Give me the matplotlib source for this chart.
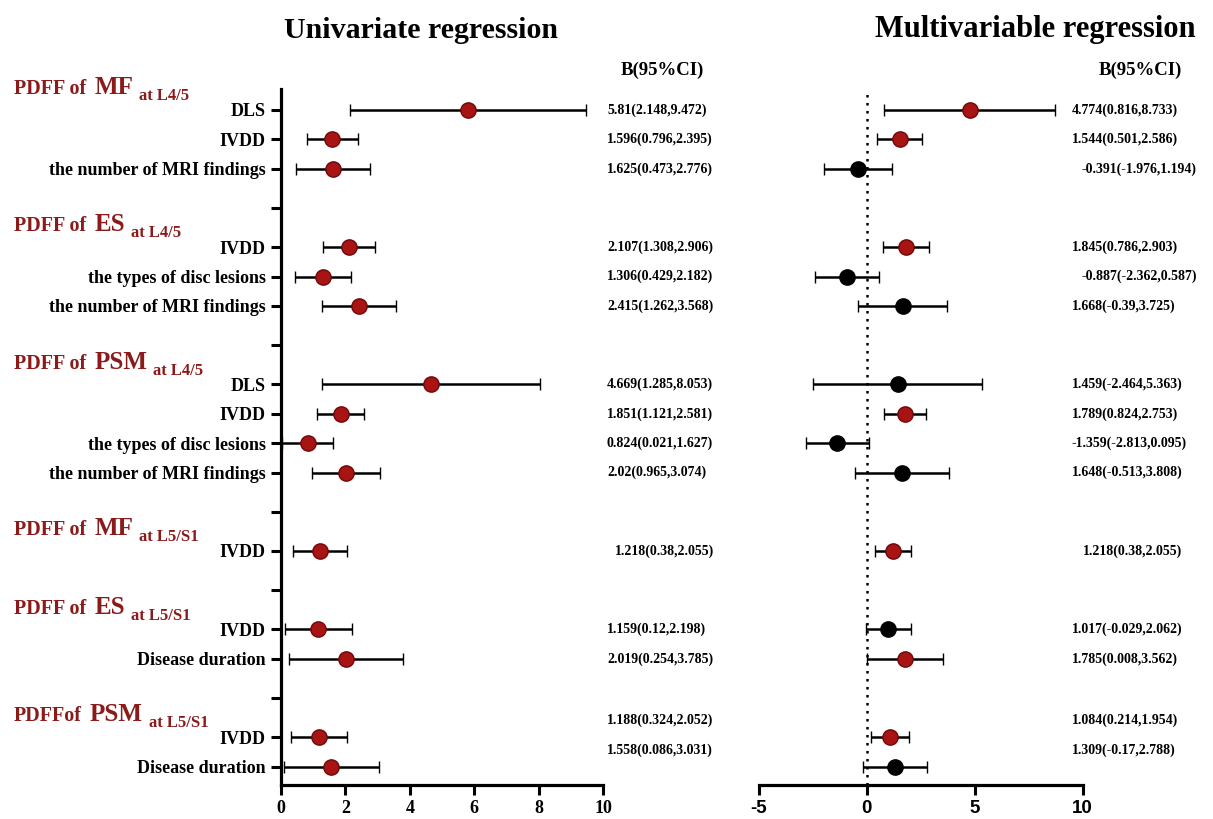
import matplotlib
matplotlib.use("Agg")
import matplotlib.pyplot as plt
from matplotlib import transforms

plt.rcParams["axes.unicode_minus"] = False

# groups of outcomes (title pieces) and their predictors
group_prefix = ["PDFF of", "PDFF of", "PDFF of", "PDFF of", "PDFF of", "PDFFof"]
group_main = ["MF", "ES", "PSM", "MF", "ES", "PSM"]
group_level = ["at L4/5", "at L4/5", "at L4/5", "at L5/S1", "at L5/S1", "at L5/S1"]
group_vars = [
    ["DLS", "IVDD", "the number of MRI findings"],
    ["IVDD", "the types of disc lesions", "the number of MRI findings"],
    ["DLS", "IVDD", "the types of disc lesions", "the number of MRI findings"],
    ["IVDD"],
    ["IVDD", "Disease duration"],
    ["IVDD", "Disease duration"],
]

# univariate B and 95% CI
uni_b = [5.81, 1.596, 1.625, 2.107, 1.306, 2.415, 4.669, 1.851, 0.824, 2.02,
         1.218, 1.159, 2.019, 1.188, 1.558]
uni_lo = [2.148, 0.796, 0.473, 1.308, 0.429, 1.262, 1.285, 1.121, 0.021, 0.965,
          0.38, 0.12, 0.254, 0.324, 0.086]
uni_hi = [9.472, 2.395, 2.776, 2.906, 2.182, 3.568, 8.053, 2.581, 1.627, 3.074,
          2.055, 2.198, 3.785, 2.052, 3.031]

# multivariable B and 95% CI
multi_b = [4.774, 1.544, -0.391, 1.845, -0.887, 1.668, 1.459, 1.789, -1.359, 1.648,
           1.218, 1.017, 1.785, 1.084, 1.309]
multi_lo = [0.816, 0.501, -1.976, 0.786, -2.362, -0.39, -2.464, 0.824, -2.813, -0.513,
            0.38, -0.029, 0.008, 0.214, -0.17]
multi_hi = [8.733, 2.586, 1.194, 2.903, 0.587, 3.725, 5.363, 2.753, 0.095, 3.808,
            2.055, 2.062, 3.562, 1.954, 2.788]

SERIF = "Liberation Serif"
SANS = "Liberation Sans"
RED = "#a81414"
RED_EDGE = "#6e0808"
TITLE_RED = "#8b1a1a"

# row layout: 1.5 between rows in a group, empty tick between groups
pos, empty, first_rows, group_of_row = [], [], [], []
u = 0.0
for gi, names in enumerate(group_vars):
    if gi > 0:
        u += 2
        empty.append(u)
        u += 2
    first_rows.append(u)
    for k in range(len(names)):
        if k > 0:
            u += 1.5
        pos.append(u)
        group_of_row.append(gi)
row_names = [n for names in group_vars for n in names]

W, H = 1213, 819
fig = plt.figure(figsize=(W / 100, H / 100), dpi=100)


def box(x0, x1, y0, y1):
    return [x0 / W, 1 - y1 / H, (x1 - x0) / W, (y1 - y0) / H]


ax_u = fig.add_axes(box(281, 603, 89, 785))
ax_m = fig.add_axes(box(758.5, 1082.5, 89, 785))


def forest(ax, b, lo, hi):
    for y, bi, l, h in zip(pos, b, lo, hi):
        sig = l > 0 or h < 0
        ax.errorbar(bi, y, xerr=[[bi - l], [h - bi]], fmt="o", color="black",
                    ecolor="black", elinewidth=1.8, capsize=4.6, capthick=1.8,
                    mfc=RED if sig else "black", mec=RED_EDGE if sig else "black",
                    ms=11, mew=1, zorder=3)
    ax.set_ylim(34.44, -1.07)
    for s in ["top", "right"]:
        ax.spines[s].set_visible(False)
    ax.spines["bottom"].set_linewidth(2.3)
    ax.tick_params(axis="both", width=2.2, length=7, pad=4)


forest(ax_u, uni_b, uni_lo, uni_hi)
ax_u.set_xlim(0, 10)
ax_u.set_xticks(range(0, 11, 2))
ax_u.spines["left"].set_linewidth(2.3)
ax_u.set_yticks(pos + empty)
ax_u.set_yticklabels(row_names + [""] * len(empty))
for lab in ax_u.get_yticklabels():
    lab.set_fontfamily(SERIF)
    lab.set_fontweight("bold")
    lab.set_fontsize(13)
for lab in ax_u.get_xticklabels():
    lab.set_fontfamily(SERIF)
    lab.set_fontweight("bold")
    lab.set_fontsize(13)

forest(ax_m, multi_b, multi_lo, multi_hi)
ax_m.set_xlim(-5, 10)
ax_m.set_xticks([-5, 0, 5, 10])
ax_m.spines["left"].set_visible(False)
ax_m.set_yticks([])
ax_m.axvline(0, color="black", lw=1.8, ls=(0, (1, 2.2)), zorder=1)
for lab in ax_m.get_xticklabels():
    lab.set_fontfamily(SANS)
    lab.set_fontweight("bold")
    lab.set_fontsize(13.5)

# titles and column headers
fig.text(421 / W, 1 - 30 / H, "Univariate regression", ha="center", va="center",
         fontsize=21.5, fontweight="bold", family=SERIF)
fig.text(1035 / W, 1 - 30 / H, "Multivariable regression", ha="center", va="center",
         fontsize=22, fontweight="bold", family=SERIF)
fig.text(662 / W, 1 - 70 / H, "B(95%CI)", ha="center", va="center",
         fontsize=13.5, fontweight="bold", family=SERIF)
fig.text(1140 / W, 1 - 70 / H, "B(95%CI)", ha="center", va="center",
         fontsize=13.5, fontweight="bold", family=SERIF)

# B(95%CI) text columns
base = transforms.blended_transform_factory(fig.transFigure, ax_u.transData)
text_dy = [0, 0, 0, 0, 0, -0.85]
nudge = {("u", 10): 8, ("m", 10): 11, ("m", 2): 10, ("m", 4): 10}
for key, x0, b, lo, hi in [("u", 607, uni_b, uni_lo, uni_hi),
                           ("m", 1072, multi_b, multi_lo, multi_hi)]:
    for i, y in enumerate(pos):
        s = f"{b[i]:g}({lo[i]:g},{hi[i]:g})"
        fig.text((x0 + nudge.get((key, i), 0)) / W, y + text_dy[group_of_row[i]], s,
                 transform=base, ha="left", va="center", fontsize=10,
                 fontweight="bold", family=SERIF)

# group titles, built from pieces of different sizes
r = fig.canvas.get_renderer()
for gi, y0 in enumerate(first_rows):
    y = y0 - 0.8
    t1 = fig.text(14 / W, y, group_prefix[gi], transform=base, va="baseline",
                  fontsize=14.5, fontweight="bold", family=SERIF, color=TITLE_RED)
    w1 = t1.get_window_extent(r).width
    tr2 = transforms.offset_copy(base, fig=fig, x=w1 + 8, y=0, units="dots")
    t2 = fig.text(14 / W, y, group_main[gi], transform=tr2, va="baseline",
                  fontsize=18, fontweight="bold", family=SERIF, color=TITLE_RED)
    w2 = t2.get_window_extent(r).width
    tr3 = transforms.offset_copy(base, fig=fig, x=w1 + w2 + 14, y=-6, units="dots")
    fig.text(14 / W, y, group_level[gi], transform=tr3, va="baseline",
             fontsize=12, fontweight="bold", family=SERIF, color=TITLE_RED)

fig.savefig("out.png", dpi=100)
